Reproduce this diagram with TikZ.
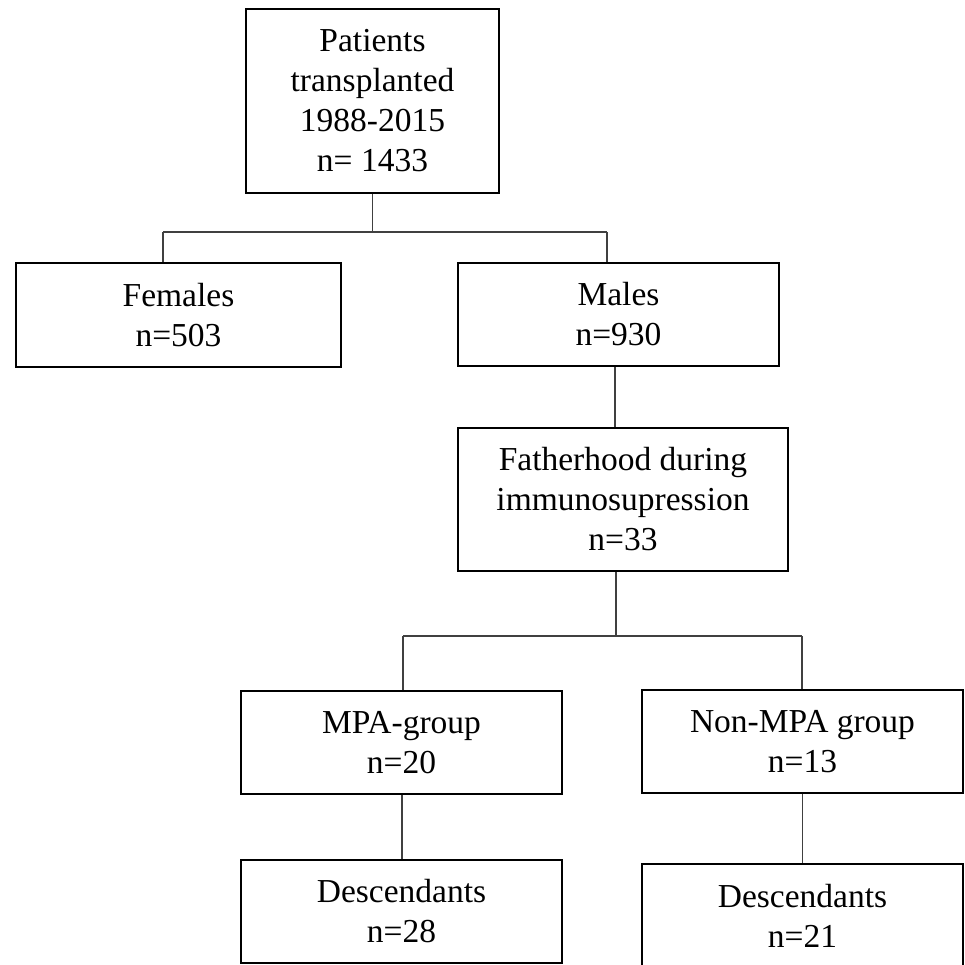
\documentclass[tikz,border=0pt]{standalone}
\usepackage{fontspec}
\setmainfont{Liberation Serif}
\begin{document}
\begin{tikzpicture}[x=1pt,y=-1pt,
  box/.style={draw=black, line width=2.6pt, rectangle, inner sep=0pt, align=center,
    font=\fontsize{33.5}{40}\selectfont},
  conn/.style={draw=black!75, line width=1.1pt}]
\useasboundingbox (0,0) rectangle (965,964);
\begin{scope}
\clip (0,0) rectangle (965,964);
\node[box, minimum width=253pt, minimum height=184pt] (top) at (372.5,101) {Patients\\transplanted\\1988-2015\\n= 1433};
\node[box, minimum width=325pt, minimum height=104pt] (fem) at (178.5,315) {Females\\n=503};
\node[box, minimum width=321pt, minimum height=103pt] (male) at (618.5,314.5) {Males\\n=930};
\node[box, minimum width=330pt, minimum height=143pt] (fath) at (623,499.5) {Fatherhood during\\immunosupression\\n=33};
\node[box, minimum width=321pt, minimum height=103pt] (mpa) at (401.5,742.5) {MPA-group\\n=20};
\node[box, minimum width=321pt, minimum height=103pt] (non) at (802.5,741.5) {Non-MPA group\\n=13};
\node[box, minimum width=321pt, minimum height=103pt] (d1) at (401.5,911.5) {Descendants\\n=28};
\node[box, minimum width=321pt, minimum height=103pt] (d2) at (802.5,915.5) {Descendants\\n=21};

\coordinate (b1) at (163,232);
\coordinate (b2) at (607,232);
\coordinate (s1) at (615,0);
\coordinate (c1) at (403,636);
\coordinate (c2) at (802,636);
\coordinate (s2) at (616,0);
\coordinate (s3) at (402,0);

\draw[conn] (top.south) -- (top.south |- b1);
\draw[conn] (b1) -- (b2);
\draw[conn] (b1) -- (b1 |- fem.north);
\draw[conn] (b2) -- (b2 |- male.north);
\draw[conn] (s1 |- male.south) -- (s1 |- fath.north);
\draw[conn] (s2 |- fath.south) -- (s2 |- c1);
\draw[conn] (c1) -- (c2);
\draw[conn] (c1) -- (c1 |- mpa.north);
\draw[conn] (c2) -- (c2 |- non.north);
\draw[conn] (s3 |- mpa.south) -- (s3 |- d1.north);
\draw[conn] (non.south) -- (d2.north);
\end{scope}
\end{tikzpicture}
\end{document}
